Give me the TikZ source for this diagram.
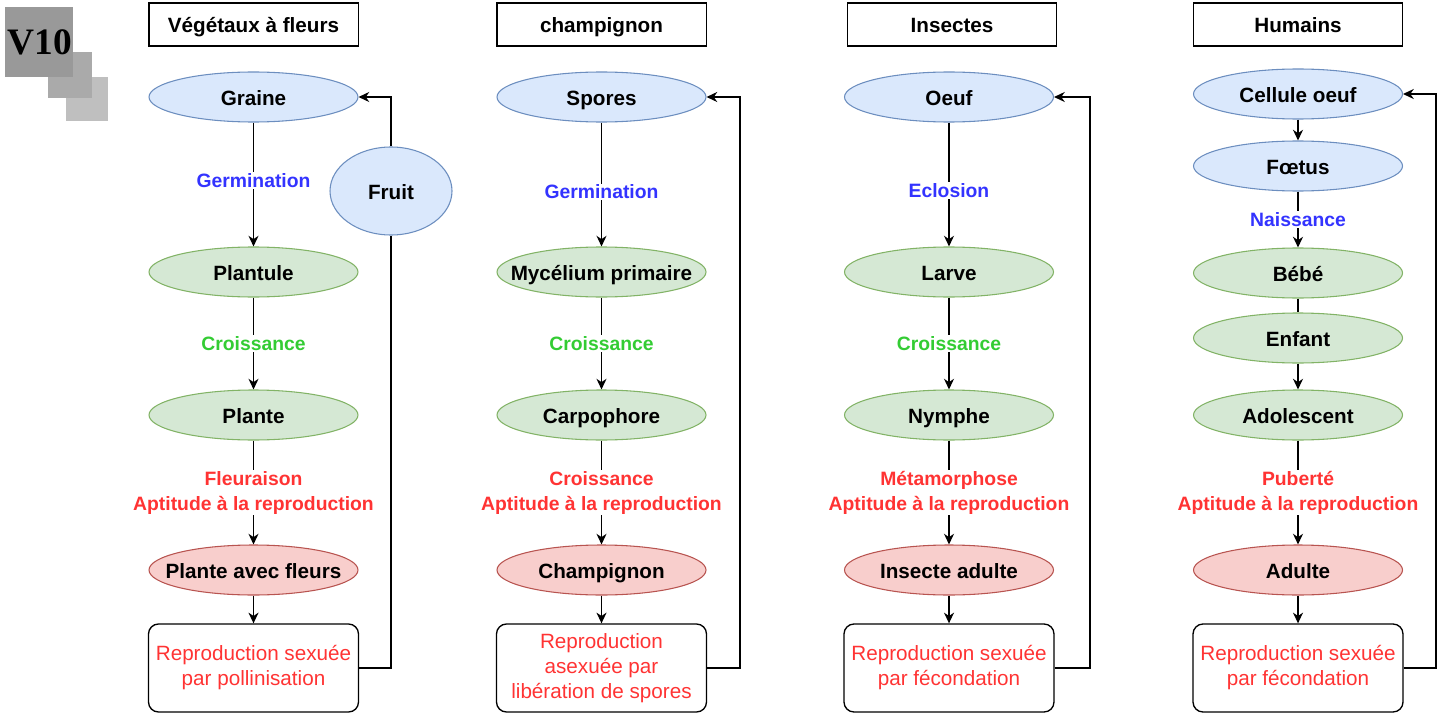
\documentclass[tikz,border=0pt]{standalone}
\usepackage{fontspec}
\setmainfont{Liberation Sans}
\newfontfamily\logofont{Liberation Serif}
\usetikzlibrary{arrows.meta,shapes.geometric}

\definecolor{bleuf}{HTML}{DAE8FC}
\definecolor{bleud}{HTML}{6C8EBF}
\definecolor{vertf}{HTML}{D5E8D4}
\definecolor{vertd}{HTML}{82B366}
\definecolor{rougef}{HTML}{F8CECC}
\definecolor{rouged}{HTML}{B85450}
\definecolor{txtb}{HTML}{3333FF}
\definecolor{txtv}{HTML}{33CC33}
\definecolor{txtr}{HTML}{FF3333}

\tikzset{
  titre/.style={draw, line width=1pt, fill=white, minimum width=157pt, minimum height=32.25pt,
                inner sep=0pt, text height=14pt, text depth=1.5pt,
                font=\bfseries\fontsize{15.5}{18}\selectfont},
  etat/.style={ellipse, draw, line width=0.8pt, minimum width=156.75pt, minimum height=37.5pt,
               inner ysep=0pt, inner xsep=-25pt, text height=14pt, text depth=1.5pt,
               font=\bfseries\fontsize{15.5}{18}\selectfont},
  bleu/.style={etat, fill=bleuf, draw=bleud},
  vert/.style={etat, fill=vertf, draw=vertd},
  rouge/.style={etat, fill=rougef, draw=rouged},
  repro/.style={draw, line width=1pt, rounded corners=7.5pt, minimum width=157.5pt, minimum height=66pt,
                inner sep=0pt, align=center, text=txtr, font=\fontsize{15.5}{18.75}\selectfont},
  lbl/.style={fill=white, inner sep=1pt, align=center, font=\bfseries\fontsize{14.5}{18.75}\selectfont},
  lblb/.style={lbl, text=txtb},
  lblv/.style={lbl, text=txtv},
  lblr/.style={lbl, text=txtr}
}

\begin{document}
\begin{tikzpicture}[x=0.75pt,y=-0.75pt,>={Stealth[length=8pt,width=7.5pt,inset=2.5pt]},line width=1pt]
    \useasboundingbox (0,0) rectangle (1444,713);

    % logo
    \fill[gray!50] (66,77) rectangle (108,121);
    \fill[gray!67] (48,52) rectangle (92,98);
    \fill[gray!80] (5,7) rectangle (73,77);
    \node[font=\logofont\bfseries\fontsize{28}{30}\selectfont] (v10) at (40,42) {V10};

    % Vegetaux a fleurs
    \node[titre] (a0) at (253.5,24.5)                       {Végétaux à fleurs};
    \node[bleu]  (a1) [below of=a0, node distance=54.375pt] {Graine};
    \node[vert]  (a2) [below of=a1, node distance=131.25pt] {Plantule};
    \node[vert]  (a3) [below of=a2, node distance=107.25pt] {Plante};
    \node[rouge] (a4) [below of=a3, node distance=116.25pt] {Plante avec fleurs};
    \node[repro] (a5) [below of=a4, node distance=73.5pt]   {Reproduction sexuée\\par pollinisation};
    \node[bleu, minimum width=91.5pt, minimum height=66pt] (fr) at (391,191) {Fruit};

    \path[->] (a1) edge node[lblb, pos=0.47] {Germination} (a2)
              (a2) edge node[lblv] {Croissance} (a3)
              (a3) edge node[lblr] {Fleuraison\\Aptitude à la reproduction} (a4)
              (a4) edge (a5);
    \draw     (a5.east) -| (fr.south);
    \draw[->] (fr.north) |- (a1.east);

    % champignon
    \node[titre] (b0) at (601.5,24.5)                       {champignon};
    \node[bleu]  (b1) [below of=b0, node distance=54.375pt] {Spores};
    \node[vert]  (b2) [below of=b1, node distance=131.25pt] {Mycélium primaire};
    \node[vert]  (b3) [below of=b2, node distance=107.25pt] {Carpophore};
    \node[rouge] (b4) [below of=b3, node distance=116.25pt] {Champignon};
    \node[repro] (b5) [below of=b4, node distance=73.5pt]   {Reproduction\\asexuée par\\libération de spores};
    \coordinate (rb) at (740,0);

    \path[->] (b1) edge node[lblb, pos=0.56] {Germination} (b2)
              (b2) edge node[lblv] {Croissance} (b3)
              (b3) edge node[lblr] {Croissance\\Aptitude à la reproduction} (b4)
              (b4) edge (b5);
    \draw[->] (b5.east) -- (b5.east -| rb) -- (b1.east -| rb) -- (b1.east);

    % Insectes
    \node[titre] (c0) at (952,24.5)                         {Insectes};
    \node[bleu]  (c1) at (949,97)                           {Oeuf};
    \node[vert]  (c2) [below of=c1, node distance=131.25pt] {Larve};
    \node[vert]  (c3) [below of=c2, node distance=107.25pt] {Nymphe};
    \node[rouge] (c4) [below of=c3, node distance=116.25pt] {Insecte adulte};
    \node[repro] (c5) [below of=c4, node distance=73.5pt]   {Reproduction sexuée\\par fécondation};
    \coordinate (rc) at (1090,0);

    \path[->] (c1) edge node[lblb, pos=0.55] {Eclosion} (c2)
              (c2) edge node[lblv] {Croissance} (c3)
              (c3) edge node[lblr] {Métamorphose\\Aptitude à la reproduction} (c4)
              (c4) edge (c5);
    \draw[->] (c5.east) -- (c5.east -| rc) -- (c1.east -| rc) -- (c1.east);

    % Humains
    \node[titre] (d0) at (1298,24.5)                        {Humains};
    \node[bleu]  (d1) [below of=d0, node distance=52.125pt] {Cellule oeuf};
    \node[bleu]  (d2) [below of=d1, node distance=54pt]     {Fœtus};
    \node[vert]  (d3) [below of=d2, node distance=80.25pt]  {Bébé};
    \node[vert]  (d4) [below of=d3, node distance=48.75pt]  {Enfant};
    \node[vert]  (d5) [below of=d4, node distance=57.75pt]  {Adolescent};
    \node[rouge] (d6) [below of=d5, node distance=116.25pt] {Adulte};
    \node[repro] (d7) [below of=d6, node distance=73.5pt]   {Reproduction sexuée\\par fécondation};
    \coordinate (rd) at (1436,0);

    \path[->] (d1) edge (d2)
              (d2) edge node[lblb] {Naissance} (d3)
              (d3) edge[-] (d4)
              (d4) edge (d5)
              (d5) edge node[lblr] {Puberté\\Aptitude à la reproduction} (d6)
              (d6) edge (d7);
    \draw[->] (d7.east) -- (d7.east -| rd) -- (d1.east -| rd) -- (d1.east);
\end{tikzpicture}
\end{document}
